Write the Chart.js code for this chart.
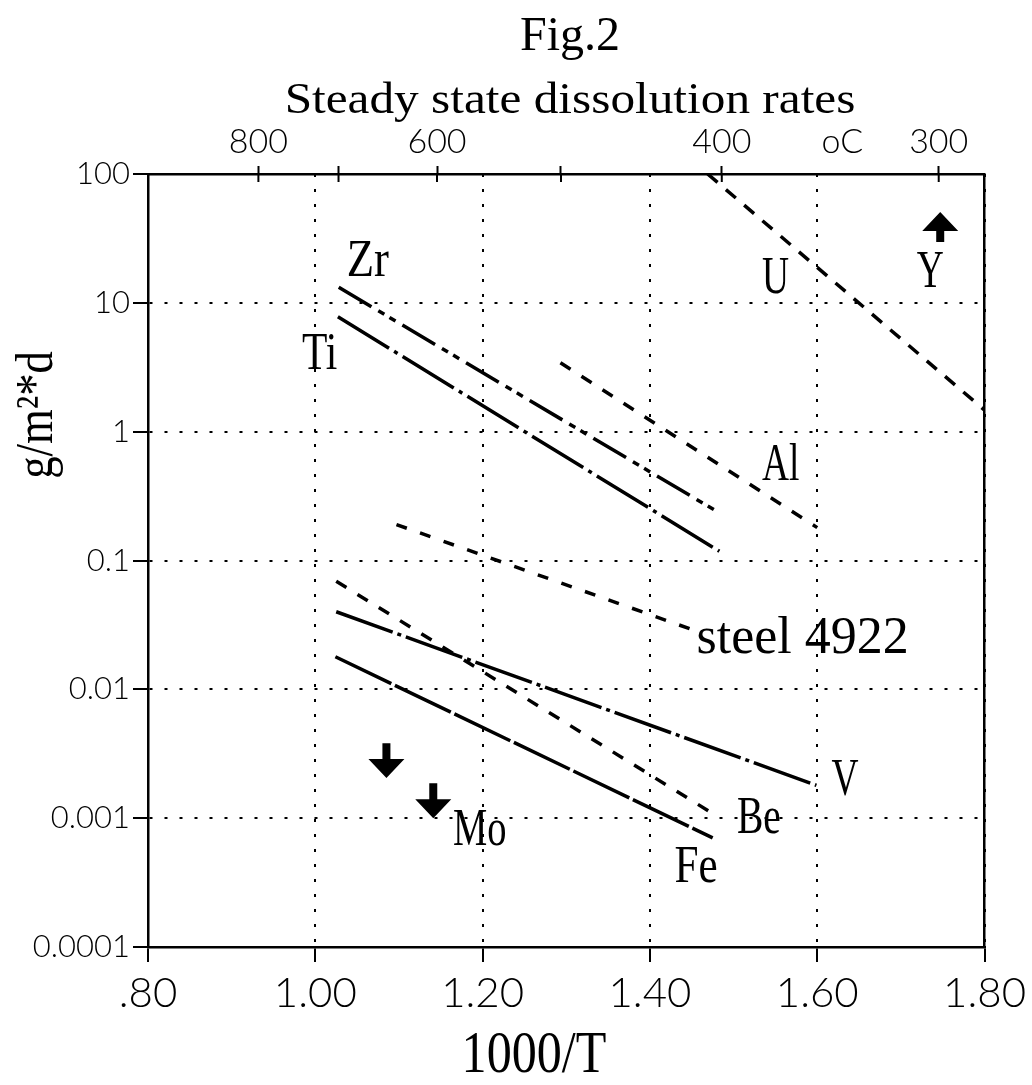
<!DOCTYPE html>
<html>
<head>
<meta charset="utf-8">
<title>Fig.2 Steady state dissolution rates</title>
<script src="https://cdn.jsdelivr.net/npm/chart.js@4.4.1/dist/chart.umd.min.js"></script>
<style>
  html, body { margin: 0; padding: 0; background: #fff; }
  canvas { display: block; }
</style>
</head>
<body>
<canvas id="chart" width="1032" height="1085"></canvas>
<script>
// bottom axis: 1000/T
const invTTicks = [0.8, 1.0, 1.2, 1.4, 1.6, 1.8];
const invTLabels = ['.80', '1.00', '1.20', '1.40', '1.60', '1.80'];
// top axis: temperature in oC
const celsiusTicks = [800, 700, 600, 500, 400, 300];
const celsiusLabels = ['800', '', '600', '', '400', '300'];
// left axis: g/m2*d
const rateTicks = [0.0001, 0.001, 0.01, 0.1, 1, 10, 100];
const rateLabels = ['0.0001', '0.001', '0.01', '0.1', '1', '10', '100'];

// each line: start and end (1000/T, rate)
const zrX = [1.028, 1.484],    zrY = [13.2, 0.232];
const tiX = [1.027, 1.483],    tiY = [7.8, 0.118];
const alX = [1.293, 1.600],    alY = [3.43, 0.18];
const uX = [1.469, 1.800],     uY = [100, 1.47];
const steelX = [1.097, 1.451], steelY = [0.19, 0.029];
const vX = [1.025, 1.599],     vY = [0.040, 0.0018];
const beX = [1.025, 1.482],    beY = [0.069, 0.00102];
const feX = [1.024, 1.475],    feY = [0.0179, 0.000703];

// limit arrows (Mo below, Y above)
const arrowX = [1.085, 1.141, 1.747];
const arrowFrom = [0.00382, 0.00187, 29.6];
const arrowTo = [0.00205, 0.001, 50.7];

// element names written next to the lines
const tags = [
  { text: 'Zr', x: 1.0375, y: 16.1, squeeze: 0.86 },
  { text: 'Ti', x: 0.984, y: 3.06, squeeze: 0.8 },
  { text: 'U', x: 1.534, y: 11.9, squeeze: 0.72 },
  { text: 'Y', x: 1.719, y: 13.3, squeeze: 0.72 },
  { text: 'Al', x: 1.534, y: 0.42, squeeze: 0.72 },
  { text: 'steel 4922', x: 1.4556, y: 0.0191, squeeze: 1.0 },
  { text: 'V', x: 1.617, y: 0.00151, squeeze: 0.72 },
  { text: 'Be', x: 1.504, y: 0.000765, squeeze: 0.76 },
  { text: 'Mo', x: 1.1646, y: 0.000617, squeeze: 0.74 },
  { text: 'Fe', x: 1.4295, y: 0.000318, squeeze: 0.83 }
];

const SERIF = '"Liberation Serif", "DejaVu Serif", serif';
const THIN = { family: 'Lato, Roboto, "Liberation Sans", sans-serif', weight: '300' };

function line(label, xs, ys, dash) {
  return {
    label,
    data: xs.map((x, i) => ({ x, y: ys[i] })),
    borderColor: '#000',
    borderWidth: 3.5,
    borderDash: dash,
    borderCapStyle: 'butt',
    pointRadius: 0,
    fill: false
  };
}

function drawText(ctx, text, x, y, size, squeeze, align, angle) {
  ctx.save();
  ctx.translate(x, y);
  if (angle) ctx.rotate(angle);
  ctx.scale(squeeze, 1);
  ctx.font = size + 'px ' + SERIF;
  ctx.textAlign = align;
  ctx.textBaseline = 'alphabetic';
  ctx.fillText(text, 0, 0);
  ctx.restore();
}

const overlay = {
  id: 'overlay',
  afterDraw(chart) {
    const { ctx, chartArea, scales } = chart;
    const xs = scales.x, ys = scales.y, top = scales.x2;
    ctx.save();
    ctx.fillStyle = '#000';
    ctx.strokeStyle = '#000';

    // top ticks also reach into the plot
    ctx.lineWidth = 2;
    top.ticks.forEach(t => {
      const px = top.getPixelForValue(t.value);
      ctx.beginPath();
      ctx.moveTo(px, chartArea.top);
      ctx.lineTo(px, chartArea.top + 8);
      ctx.stroke();
    });

    // unit of the top axis
    ctx.font = '300 34px ' + THIN.family;
    ctx.textAlign = 'center';
    ctx.textBaseline = 'middle';
    ctx.fillText('oC', top.getPixelForValue(1.63), 142);

    // titles
    drawText(ctx, 'Fig.2', 570, 50, 48, 1.0, 'center');
    drawText(ctx, 'Steady state dissolution rates', 570, 113, 44, 1.12, 'center');
    drawText(ctx, '1000/T', 534, 1072, 59, 0.85, 'center');
    drawText(ctx, 'g/m²*d', 52, 415, 52, 0.86, 'center', -Math.PI / 2);

    // names
    tags.forEach(t => {
      drawText(ctx, t.text, xs.getPixelForValue(t.x), ys.getPixelForValue(t.y), 52, t.squeeze, 'left');
    });

    // arrows
    arrowX.forEach((v, i) => {
      const px = xs.getPixelForValue(v);
      const y0 = ys.getPixelForValue(arrowFrom[i]);
      const y1 = ys.getPixelForValue(arrowTo[i]);
      const head = 19 * Math.sign(y1 - y0);
      ctx.beginPath();
      ctx.moveTo(px - 4, y0);
      ctx.lineTo(px + 4, y0);
      ctx.lineTo(px + 4, y1 - head);
      ctx.lineTo(px + 18, y1 - head);
      ctx.lineTo(px, y1);
      ctx.lineTo(px - 18, y1 - head);
      ctx.lineTo(px - 4, y1 - head);
      ctx.closePath();
      ctx.fill();
    });
    ctx.restore();
  }
};

new Chart(document.getElementById('chart'), {
  type: 'line',
  data: {
    datasets: [
      line('Zr', zrX, zrY, [38, 8, 7, 6, 7, 8]),
      line('Ti', tiX, tiY, [60, 6, 4, 6]),
      line('Al', alX, alY, [12, 13]),
      line('U', uX, uY, [13, 11]),
      line('steel 4922', steelX, steelY, [11, 14]),
      line('V', vX, vY, [60, 5, 4, 5]),
      line('Be', beX, beY, [12, 13]),
      line('Fe', feX, feY, [62, 4])
    ]
  },
  options: {
    responsive: false,
    animation: false,
    layout: { padding: 0 },
    plugins: {
      legend: { display: false },
      tooltip: { enabled: false },
      title: { display: false }
    },
    scales: {
      x: {
        type: 'linear',
        position: 'bottom',
        min: 0.8,
        max: 1.8,
        afterBuildTicks: s => { s.ticks = invTTicks.map(v => ({ value: v })); },
        afterFit: s => { s.height = 138; },
        ticks: {
          callback: (v, i) => invTLabels[i],
          font: { family: THIN.family, weight: THIN.weight, size: 42 },
          color: '#000',
          padding: 6,
          maxRotation: 0,
          autoSkip: false
        },
        grid: { color: '#000', lineWidth: 2, tickLength: 15, tickWidth: 2, tickColor: '#000' },
        border: { display: true, color: '#000', width: 2.5, dash: [3, 12] }
      },
      x2: {
        type: 'linear',
        position: 'top',
        min: 0.8,
        max: 1.8,
        afterBuildTicks: s => { s.ticks = celsiusTicks.map(c => ({ value: 1000 / (c + 273) })); },
        afterFit: s => { s.height = 174; },
        ticks: {
          callback: (v, i) => celsiusLabels[i],
          font: { family: THIN.family, weight: THIN.weight, size: 34 },
          color: '#000',
          padding: 4,
          maxRotation: 0,
          autoSkip: false
        },
        grid: { drawOnChartArea: false, tickLength: 8, tickWidth: 2, tickColor: '#000' },
        border: { display: true, color: '#000', width: 2.5 }
      },
      y: {
        type: 'logarithmic',
        position: 'left',
        min: 0.0001,
        max: 100,
        afterBuildTicks: s => { s.ticks = rateTicks.map(v => ({ value: v })); },
        afterFit: s => { s.width = 148; },
        ticks: {
          callback: (v, i) => rateLabels[i],
          font: { family: THIN.family, weight: THIN.weight, size: 31 },
          color: '#000',
          padding: 3,
          autoSkip: false
        },
        grid: { color: '#000', lineWidth: 2, tickLength: 15, tickWidth: 2, tickColor: '#000' },
        border: { display: true, color: '#000', width: 2.5, dash: [3, 12] }
      },
      y2: {
        type: 'linear',
        position: 'right',
        afterFit: s => { s.width = 42; },
        ticks: { display: false },
        grid: { display: false },
        border: { display: true, color: '#000', width: 2.5 }
      }
    }
  },
  plugins: [overlay]
});
</script>
</body>
</html>
